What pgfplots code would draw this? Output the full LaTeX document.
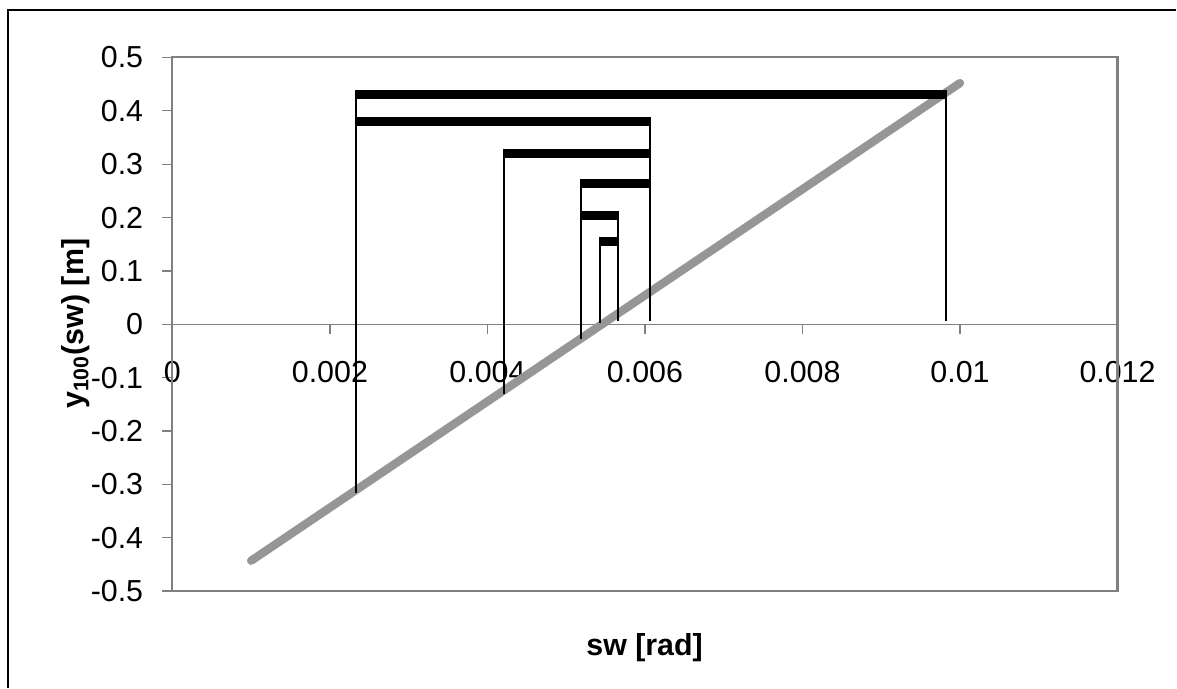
\documentclass[border=0pt]{standalone}
\usepackage{pgfplots}
\pgfplotsset{compat=1.18}
\usepackage{fontspec}
\setmainfont{Liberation Sans}
\definecolor{linegray}{RGB}{150,150,150}
\definecolor{framegray}{RGB}{128,128,128}
\begin{document}
\begin{tikzpicture}[x=0.385pt,y=0.385pt]
\path (0,0) rectangle (1177,688);
\draw[black, line width=0.6pt] (8,0) -- (8,678) -- (1177,678);
\begin{axis}[
  at={(66.41pt,37.15pt)}, anchor=south west,
  scale only axis, width=364.1pt, height=205.6pt,
  xmin=0, xmax=0.012, ymin=-0.5, ymax=0.5,
  clip=false,
  axis x line=middle, axis y line=left, axis line style={-},
  x axis line style={framegray, line width=0.5pt},
  y axis line style={black, line width=0.6pt},
  hide obscured x ticks=false, hide obscured y ticks=false,
  scaled ticks=false,
  tick align=outside, major tick length=3.85pt,
  xtick style={framegray, line width=0.5pt},
  ytick style={framegray, line width=0.5pt},
  xtick={0,0.002,0.004,0.006,0.008,0.01,0.012},
  xticklabels={0,0.002,0.004,0.006,0.008,0.01,0.012},
  ytick={-0.5,-0.4,-0.3,-0.2,-0.1,0,0.1,0.2,0.3,0.4,0.5},
  yticklabels={-0.5,-0.4,-0.3,-0.2,-0.1,0,0.1,0.2,0.3,0.4,0.5},
  tick label style={font=\fontsize{11.7}{14}\selectfont},
  xticklabel style={anchor=north, yshift=-7pt},
  yticklabel style={anchor=east, xshift=-3.9pt},
]
\draw[framegray, line width=0.8pt] (rel axis cs:0,0) rectangle (rel axis cs:1,1);
% function line
\addplot[linegray, line width=3.2pt, line cap=round] coordinates {(0.001,-0.443) (0.01,0.452)};
% vertical lines
\addplot[black, line width=0.8pt] coordinates {(0.00233,-0.3165) (0.00233,0.439)};
\addplot[black, line width=0.8pt] coordinates {(0.00982,0.007) (0.00982,0.439)};
\addplot[black, line width=0.8pt] coordinates {(0.00607,0.007) (0.00607,0.388)};
\addplot[black, line width=0.8pt] coordinates {(0.00421,-0.130) (0.00421,0.329)};
\addplot[black, line width=0.8pt] coordinates {(0.00519,-0.028) (0.00519,0.273)};
\addplot[black, line width=0.8pt] coordinates {(0.00566,0.007) (0.00566,0.212)};
\addplot[black, line width=0.8pt] coordinates {(0.00543,0.002) (0.00543,0.163)};
% horizontal bars
\addplot[black, line width=3.5pt] coordinates {(0.00233,0.4307) (0.00982,0.4307)};
\addplot[black, line width=3.5pt] coordinates {(0.00233,0.3798) (0.00607,0.3798)};
\addplot[black, line width=3.5pt] coordinates {(0.00421,0.3202) (0.00607,0.3202)};
\addplot[black, line width=3.5pt] coordinates {(0.00519,0.2644) (0.00607,0.2644)};
\addplot[black, line width=3.5pt] coordinates {(0.00519,0.2032) (0.00566,0.2032)};
\addplot[black, line width=3.5pt] coordinates {(0.00543,0.1545) (0.00566,0.1545)};
\end{axis}
\node[rotate=90, font=\fontsize{11.7}{14}\selectfont\bfseries] at (76,364) {y\textsubscript{100}(sw) [m]};
\node[font=\fontsize{11.7}{14}\selectfont\bfseries] at (645,40) {sw [rad]};
\end{tikzpicture}
\end{document}
